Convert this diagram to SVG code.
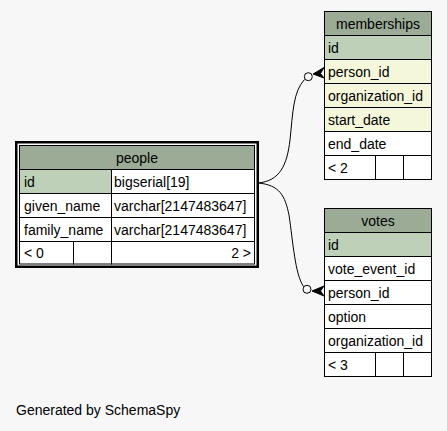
<svg xmlns="http://www.w3.org/2000/svg" width="447" height="431" viewBox="0 0 447 431">
<style>
text{font-family:"Liberation Sans",Arial,sans-serif;font-size:14px;fill:#000}
.c{text-anchor:middle}
.e{text-anchor:end}
.cell{stroke:#000;stroke-width:1}
.hd{fill:#9bab96}
.pk{fill:#bed1b8}
.ix{fill:#f4f7da}
.w{fill:#ffffff}
.edge{fill:none;stroke:#000;stroke-width:1}
.crow{fill:#000;stroke:#000;stroke-width:1}
.dot{fill:none;stroke:#000;stroke-width:1}
</style>
<rect x="0" y="0" width="447" height="431" fill="#f7f7f7"/>

<g id="connectors">
  <path class="edge" d="M258,183 C280,181 287,165 290,140 C293,112 293,92 304.5,79.5"/>
  <circle class="dot" cx="308.3" cy="76.7" r="4"/>
  <polygon class="crow" points="324,67.5 313,74 324,78 320.5,73.5"/>
  <path class="edge" d="M258,183 C280,185 285,196 289,215 C293,242 295,274 303.5,286.5"/>
  <circle class="dot" cx="307" cy="289.3" r="4"/>
  <polygon class="crow" points="324,286 312,291 324,296 320.5,291"/>
</g>

<g id="people">
  <rect x="16.25" y="142.25" width="241.5" height="124.5" fill="#ffffff" stroke="#000" stroke-width="2.5"/>
  <rect class="cell hd" x="19.5" y="145.5" width="235" height="24"/>
  <text class="c" x="137" y="162.5">people</text>
  <rect class="cell pk" x="19.5" y="169.5" width="92" height="24"/>
  <rect class="cell w" x="111.5" y="169.5" width="143" height="24"/>
  <text x="24" y="186.5">id</text>
  <text x="114" y="186.5">bigserial[19]</text>
  <rect class="cell w" x="19.5" y="193.5" width="92" height="24"/>
  <rect class="cell w" x="111.5" y="193.5" width="143" height="24"/>
  <text x="24" y="210.5">given_name</text>
  <text x="114" y="210.5">varchar[2147483647]</text>
  <rect class="cell w" x="19.5" y="217.5" width="92" height="24"/>
  <rect class="cell w" x="111.5" y="217.5" width="143" height="24"/>
  <text x="24" y="234.5">family_name</text>
  <text x="114" y="234.5">varchar[2147483647]</text>
  <rect class="cell w" x="19.5" y="241.5" width="54" height="22.5"/>
  <rect class="cell w" x="73.5" y="241.5" width="38" height="22.5"/>
  <rect class="cell w" x="111.5" y="241.5" width="143" height="22.5"/>
  <text x="24" y="258">&lt; 0</text>
  <text class="e" x="251" y="258">2 &gt;</text>
</g>

<g id="memberships">
  <rect class="cell hd" x="324.5" y="11.5" width="107" height="24"/>
  <text class="c" x="378" y="28.5">memberships</text>
  <rect class="cell pk" x="324.5" y="35.5" width="107" height="24"/>
  <text x="328" y="52.5">id</text>
  <rect class="cell ix" x="324.5" y="59.5" width="107" height="24"/>
  <text x="328" y="76.5">person_id</text>
  <rect class="cell ix" x="324.5" y="83.5" width="107" height="24"/>
  <text x="328" y="100.5">organization_id</text>
  <rect class="cell ix" x="324.5" y="107.5" width="107" height="24"/>
  <text x="328" y="124.5">start_date</text>
  <rect class="cell w" x="324.5" y="131.5" width="107" height="24"/>
  <text x="328" y="148.5">end_date</text>
  <rect class="cell w" x="324.5" y="155.5" width="51" height="24"/>
  <rect class="cell w" x="375.5" y="155.5" width="28" height="24"/>
  <rect class="cell w" x="403.5" y="155.5" width="28" height="24"/>
  <text x="328" y="172.5">&lt; 2</text>
</g>

<g id="votes">
  <rect class="cell hd" x="324.5" y="208.5" width="107" height="24"/>
  <text class="c" x="378" y="225.5">votes</text>
  <rect class="cell pk" x="324.5" y="232.5" width="107" height="24"/>
  <text x="328" y="249.5">id</text>
  <rect class="cell w" x="324.5" y="256.5" width="107" height="24"/>
  <text x="328" y="273.5">vote_event_id</text>
  <rect class="cell w" x="324.5" y="280.5" width="107" height="24"/>
  <text x="328" y="297.5">person_id</text>
  <rect class="cell w" x="324.5" y="304.5" width="107" height="24"/>
  <text x="328" y="321.5">option</text>
  <rect class="cell w" x="324.5" y="328.5" width="107" height="24"/>
  <text x="328" y="345.5">organization_id</text>
  <rect class="cell w" x="324.5" y="352.5" width="51" height="24"/>
  <rect class="cell w" x="375.5" y="352.5" width="28" height="24"/>
  <rect class="cell w" x="403.5" y="352.5" width="28" height="24"/>
  <text x="328" y="369.5">&lt; 3</text>
</g>

<text x="16" y="415">Generated by SchemaSpy</text>
</svg>
